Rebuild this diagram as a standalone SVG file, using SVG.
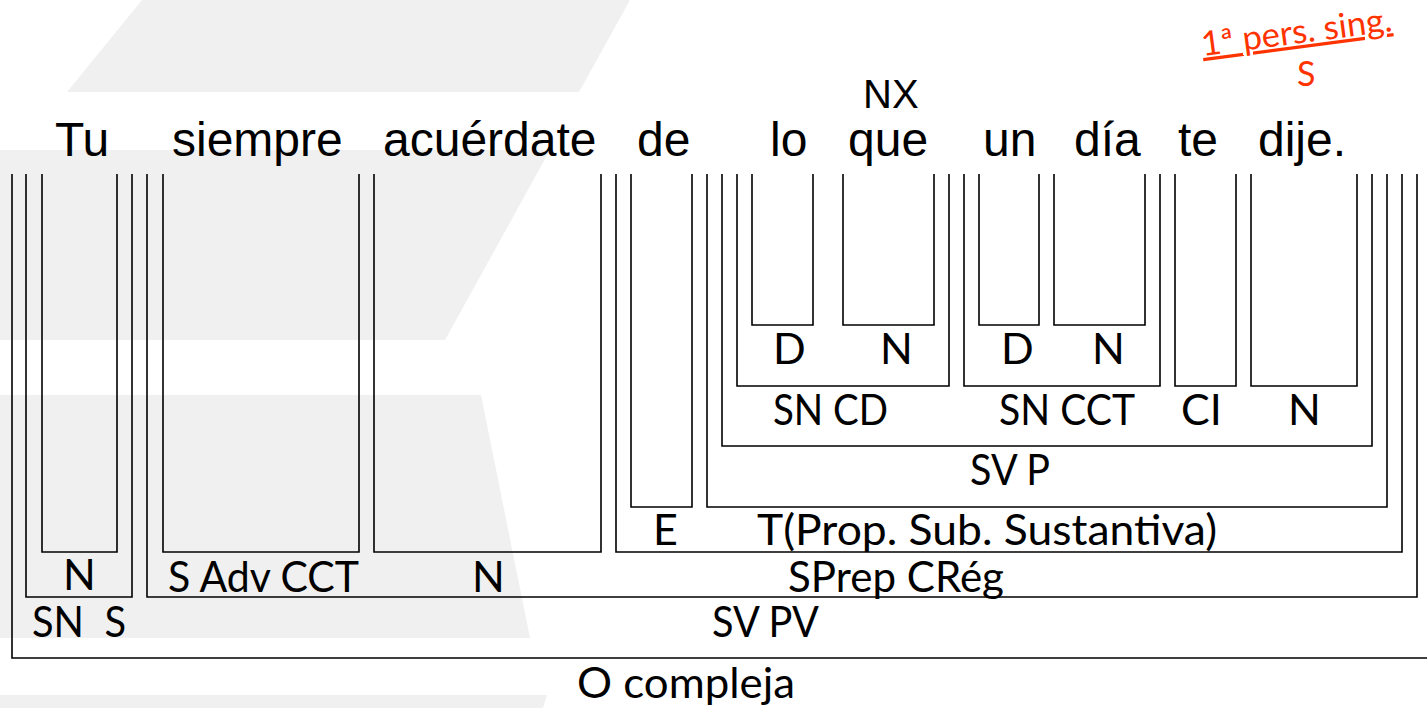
<svg xmlns="http://www.w3.org/2000/svg" width="1427" height="708" viewBox="0 0 1427 708">
<style>
.br{fill:none;stroke:#000;stroke-width:1.6}
.w{font-family:"Liberation Sans",Arial,sans-serif;font-size:48px;fill:#000}
.l{font-family:Lato,"Open Sans",sans-serif;font-size:43px;fill:#000}
.r{font-family:Lato,"Open Sans",sans-serif;font-size:34px;fill:#FF3300}
.bg{fill:#F0F0F0}
</style>
<rect width="1427" height="708" fill="#fff"/>
<g id="background">
<path class="bg" d="M142 0H630L579 92H67Z"/>
<path class="bg" d="M0 150H550L445 340H0Z"/>
<path class="bg" d="M0 395H481L530 638H0Z"/>
<path class="bg" d="M0 695H547L543 708H0Z"/>
</g>
<g id="words">
<text class="w" x="55" y="156">Tu</text>
<text class="w" x="172" y="156">siempre</text>
<text class="w" x="383" y="156">acuérdate</text>
<text class="w" x="637" y="156">de</text>
<text class="w" x="770" y="156">lo</text>
<text class="w" x="848" y="156">que</text>
<text class="w" x="983" y="156">un</text>
<text class="w" x="1074" y="156">día</text>
<text class="w" x="1178" y="156">te</text>
<text class="w" x="1258" y="156">dije.</text>
<text class="w" x="863" y="108" style="font-size:40px">NX</text>
</g>
<g id="note">
<g transform="rotate(-7.5 1203 58)">
<text class="r" x="1203" y="56" text-decoration="underline" textLength="192" lengthAdjust="spacingAndGlyphs">1ª pers. sing.</text>
</g>
<text class="r" x="1297" y="86">S</text>
</g>
<g id="n-o-compleja"><path class="br" d="M12 174V658H1430"/><text class="l" x="577" y="698" textLength="218" lengthAdjust="spacingAndGlyphs">O compleja</text></g>
<g id="n-sn-s"><path class="br" d="M26 174V597H132V174"/><text class="l" x="32" y="637" style="white-space:pre" textLength="94" lengthAdjust="spacingAndGlyphs">SN  S</text></g>
<g id="n-tu"><path class="br" d="M42 174V552H117V174"/><text class="l" x="63" y="590">N</text></g>
<g id="n-sv-pv"><path class="br" d="M147 174V597H1417V174"/><text class="l" x="712" y="637" textLength="107" lengthAdjust="spacingAndGlyphs">SV PV</text></g>
<g id="n-sadv"><path class="br" d="M163 174V552H359V174"/><text class="l" x="168" y="592" textLength="191" lengthAdjust="spacingAndGlyphs">S Adv CCT</text></g>
<g id="n-acuerdate"><path class="br" d="M374 174V552H601V174"/><text class="l" x="472" y="592">N</text></g>
<g id="n-sprep"><path class="br" d="M616 174V552H1402V174"/><text class="l" x="788" y="592" textLength="216" lengthAdjust="spacingAndGlyphs">SPrep CRég</text></g>
<g id="n-e"><path class="br" d="M631 174V507H692V174"/><text class="l" x="653" y="545">E</text></g>
<g id="n-t"><path class="br" d="M707 174V507H1387V174"/><text class="l" x="757" y="545" textLength="460" lengthAdjust="spacingAndGlyphs">T(Prop. Sub. Sustantiva)</text></g>
<g id="n-sv-p"><path class="br" d="M722 174V446H1372V174"/><text class="l" x="970" y="485" textLength="80" lengthAdjust="spacingAndGlyphs">SV P</text></g>
<g id="n-sn-cd"><path class="br" d="M737 174V386H949V174"/><text class="l" x="773" y="425" textLength="115" lengthAdjust="spacingAndGlyphs">SN CD</text></g>
<g id="n-lo"><path class="br" d="M752 174V325H813V174"/><text class="l" x="773" y="364">D</text></g>
<g id="n-que"><path class="br" d="M843 174V325H934V174"/><text class="l" x="880" y="364">N</text></g>
<g id="n-sn-cct"><path class="br" d="M964 174V386H1160V174"/><text class="l" x="999" y="425" textLength="136" lengthAdjust="spacingAndGlyphs">SN CCT</text></g>
<g id="n-un"><path class="br" d="M979 174V325H1039V174"/><text class="l" x="1001" y="364">D</text></g>
<g id="n-dia"><path class="br" d="M1054 174V325H1145V174"/><text class="l" x="1092" y="364">N</text></g>
<g id="n-te"><path class="br" d="M1175 174V386H1236V174"/><text class="l" x="1181" y="425">CI</text></g>
<g id="n-dije"><path class="br" d="M1251 174V386H1357V174"/><text class="l" x="1288" y="425">N</text></g>
<g id="connectors"></g>
</svg>
